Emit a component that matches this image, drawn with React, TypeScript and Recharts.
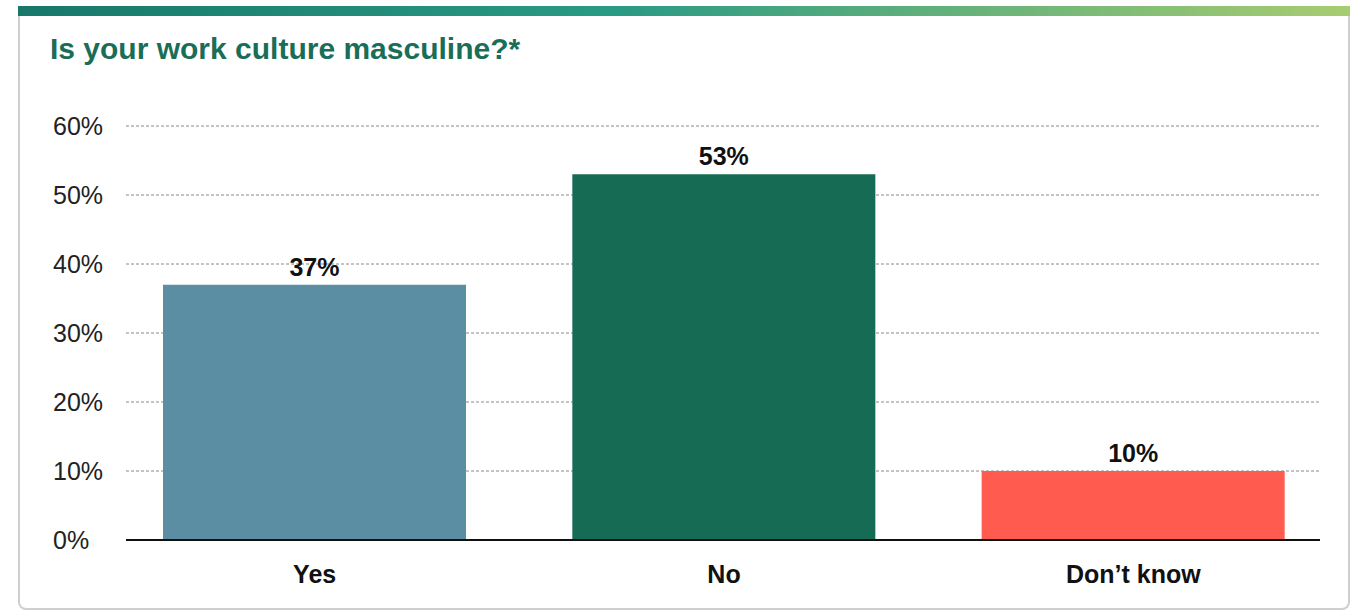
import { BarChart, Bar, XAxis, YAxis, CartesianGrid, Cell, LabelList } from 'recharts';

const categories = ['Yes', 'No', 'Don’t know'];
const shares = [37, 53, 10];
const barColors = ['#5b8ea3', '#166b55', '#ff5b4f'];
const yTicks = [0, 10, 20, 30, 40, 50, 60];

const data = categories.map((name, i) => ({ name, value: shares[i] }));

const FONT = '"Liberation Sans", Arial, Helvetica, sans-serif';

function YTick(props: any) {
  const { x, y, payload } = props;
  return (
    <text x={x - 73} y={y} dy="0.355em" textAnchor="start" fontSize={25} fill="#222" fontFamily={FONT}>
      {payload.value}%
    </text>
  );
}

export default function App() {
  return (
    <div style={{ position: 'absolute', left: 0, top: 0, width: 1361, height: 612, background: '#fff', fontFamily: FONT, overflow: 'hidden' }}>
      <div
        style={{
          position: 'absolute',
          left: 18,
          top: 6,
          width: 1328,
          height: 602,
          borderLeft: '2px solid #cfcfcf',
          borderRight: '2px solid #cfcfcf',
          borderBottom: '2px solid #cfcfcf',
          borderRadius: '0 0 8px 8px',
        }}
      />
      <div
        style={{
          position: 'absolute',
          left: 18,
          top: 6,
          width: 1332,
          height: 10,
          background: 'linear-gradient(to right, #17786a 0%, #2a9a84 45%, #a8cc70 100%)',
        }}
      />
      <div
        style={{
          position: 'absolute',
          left: 50,
          top: 31,
          fontSize: 30,
          fontWeight: 'bold',
          color: '#1a6e58',
          lineHeight: '36px',
          whiteSpace: 'nowrap',
        }}
      >
        Is your work culture masculine?*
      </div>
      <div style={{ position: 'absolute', left: 0, top: 0 }}>
        <BarChart width={1361} height={612} data={data} margin={{ top: 126, right: 41, bottom: 32, left: 36 }}>
          <CartesianGrid
            vertical={false}
            stroke="#888"
            strokeDasharray="3 2"
            horizontalValues={[10, 20, 30, 40, 50, 60]}
          />
          <XAxis
            dataKey="name"
            height={40}
            padding={{ left: -16, right: -18 }}
            tickLine={false}
            axisLine={{ stroke: '#111', strokeWidth: 2 }}
            tickMargin={19}
            tick={{ fontSize: 25, fontWeight: 'bold', fill: '#111', fontFamily: FONT }}
          />
          <YAxis
            width={90}
            domain={[0, 60]}
            ticks={yTicks}
            axisLine={false}
            tickLine={false}
            tickSize={0}
            tickMargin={0}
            tick={<YTick />}
          />
          <Bar dataKey="value" barSize={303} isAnimationActive={false}>
            {data.map((d, i) => (
              <Cell key={d.name} fill={barColors[i]} />
            ))}
            <LabelList
              dataKey="value"
              position="top"
              offset={9}
              formatter={(v: any) => `${v}%`}
              style={{ fontSize: 25, fontWeight: 'bold', fill: '#111', fontFamily: FONT }}
            />
          </Bar>
        </BarChart>
      </div>
    </div>
  );
}
